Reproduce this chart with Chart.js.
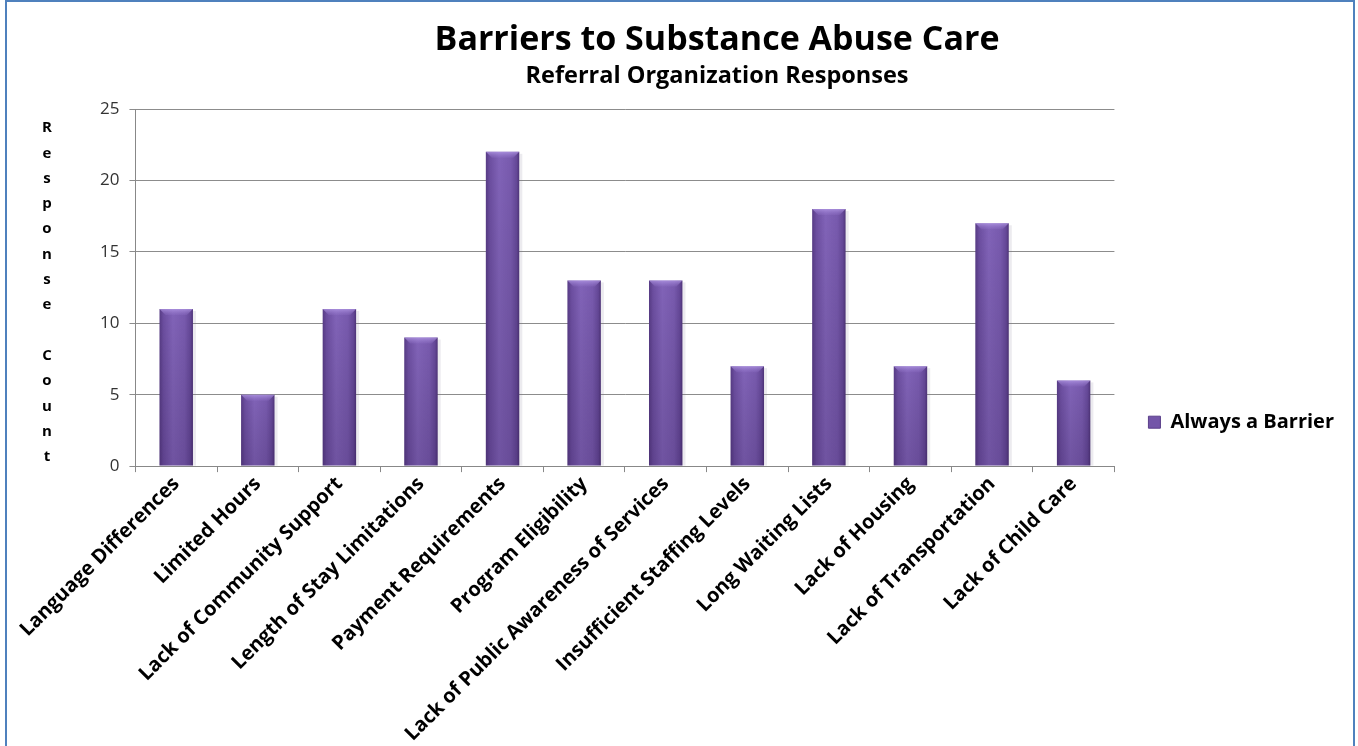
<!DOCTYPE html>
<html>
<head>
<meta charset="utf-8">
<script src="https://cdn.jsdelivr.net/npm/chart.js@4"></script>
<style>
  body { margin: 0; background: #fff; }
  #frame {
    position: absolute; left: 5px; top: 0px;
    width: 1346px; height: 744px;
    border: 2px solid #4f81bd;
    background: #fff;
  }
</style>
</head>
<body>
<div id="frame"><canvas id="chart" width="1346" height="744"></canvas></div>
<script>
const categories = [
  'Language Differences', 'Limited Hours', 'Lack of Community Support',
  'Length of Stay Limitations', 'Payment Requirements', 'Program Eligibility',
  'Lack of Public Awareness of Services', 'Insufficient Staffing Levels',
  'Long Waiting Lists', 'Lack of Housing', 'Lack of Transportation', 'Lack of Child Care'
];
const alwaysBarrier = [11, 5, 11, 9, 22, 13, 13, 7, 18, 7, 17, 6];
const yTicks = [0, 5, 10, 15, 20, 25];
const yTitle = 'Response Count';

const FONT = '"Open Sans", sans-serif';
const BAR_PCT = 0.41;

// horizontal cylinder-like shading for each bar
function barFill(ctx) {
  const chart = ctx.chart;
  const xs = chart.scales.x;
  if (!chart.chartArea || !xs) return '#7a5aae';
  const cx = xs.getPixelForValue(ctx.dataIndex);
  const w = (xs.width / categories.length) * BAR_PCT;
  const g = chart.ctx.createLinearGradient(cx - w / 2, 0, cx + w / 2, 0);
  g.addColorStop(0, '#573b85');
  g.addColorStop(0.12, '#6c4ea0');
  g.addColorStop(0.4, '#8163b8');
  g.addColorStop(0.75, '#785aae');
  g.addColorStop(0.92, '#654898');
  g.addColorStop(1, '#4f3479');
  return g;
}

// darkening toward the base plus a soft bevel on top of each bar
const barBevel = {
  id: 'barBevel',
  afterDatasetsDraw(chart) {
    const c = chart.ctx;
    chart.getDatasetMeta(0).data.forEach(bar => {
      const left = bar.x - bar.width / 2;
      const h = bar.base - bar.y;
      c.save();
      const v = c.createLinearGradient(0, bar.y, 0, bar.base);
      v.addColorStop(0, 'rgba(0,0,0,0)');
      v.addColorStop(1, 'rgba(20,0,40,0.16)');
      c.fillStyle = v;
      c.fillRect(left, bar.y, bar.width, h);
      const cap = 6;
      c.beginPath();
      c.moveTo(left, bar.y);
      c.lineTo(left + bar.width, bar.y);
      c.lineTo(left + bar.width - cap, bar.y + cap);
      c.lineTo(left + cap, bar.y + cap);
      c.closePath();
      const cg = c.createLinearGradient(0, bar.y, 0, bar.y + cap);
      cg.addColorStop(0, 'rgba(185,160,235,0.7)');
      cg.addColorStop(1, 'rgba(150,120,205,0.2)');
      c.fillStyle = cg;
      c.fill();
      c.fillStyle = 'rgba(120,110,140,0.14)';
      c.fillRect(left + bar.width, bar.y + 2, 3, h - 2);
      c.restore();
    });
  }
};

// stacked letters for the value axis title
const stackedTitle = {
  id: 'stackedTitle',
  afterDraw(chart) {
    const area = chart.chartArea;
    const c = chart.ctx;
    const step = 25.3;
    c.save();
    c.font = 'bold 15px ' + FONT;
    c.fillStyle = '#000';
    c.textAlign = 'center';
    c.textBaseline = 'middle';
    yTitle.split('').forEach((ch, i) => c.fillText(ch, 40, area.top + 19 + i * step));
    c.restore();
  }
};

new Chart(document.getElementById('chart'), {
  type: 'bar',
  data: {
    labels: categories,
    datasets: [{
      label: 'Always a Barrier',
      data: alwaysBarrier,
      backgroundColor: barFill,
      barPercentage: BAR_PCT,
      categoryPercentage: 1
    }]
  },
  options: {
    responsive: false,
    animation: false,
    layout: { padding: { left: 83, right: 9, bottom: 0 } },
    plugins: {
      title: {
        display: true,
        text: 'Barriers to Substance Abuse Care',
        color: '#000',
        font: { family: FONT, size: 34, weight: 'bold' },
        padding: { top: 18, bottom: 0 }
      },
      subtitle: {
        display: true,
        text: 'Referral Organization Responses',
        color: '#000',
        font: { family: FONT, size: 23.5, weight: 'bold' },
        padding: { top: 1, bottom: 19 }
      },
      legend: {
        position: 'right',
        // empty title only pushes the entry down a little
        title: { display: true, text: '', font: { size: 12 }, padding: { top: 82, bottom: 0 } },
        labels: {
          color: '#000',
          font: { family: FONT, size: 20, weight: 'bold' },
          boxWidth: 12,
          boxHeight: 12,
          padding: 34,
          generateLabels: chart => [{
            text: 'Always a Barrier',
            fillStyle: '#7355a8',
            strokeStyle: '#5a3f8a',
            fontColor: '#000',
            lineWidth: 1,
            datasetIndex: 0
          }]
        }
      },
      tooltip: { enabled: false }
    },
    scales: {
      x: {
        grid: {
          drawOnChartArea: false,
          drawTicks: true,
          tickLength: 6,
          color: '#888'
        },
        border: { color: '#888' },
        ticks: {
          color: '#000',
          font: { family: FONT, size: 20, weight: 'bold' },
          minRotation: 45,
          maxRotation: 45,
          autoSkip: false,
          padding: 0
        }
      },
      y: {
        min: 0,
        max: 25,
        afterBuildTicks: scale => { scale.ticks = yTicks.map(v => ({ value: v })); },
        grid: { color: '#8c8c8c', tickLength: 6 },
        border: { color: '#888' },
        ticks: {
          color: '#333',
          font: { family: FONT, size: 17 },
          padding: 10
        }
      }
    }
  },
  plugins: [barBevel, stackedTitle]
});
</script>
</body>
</html>
